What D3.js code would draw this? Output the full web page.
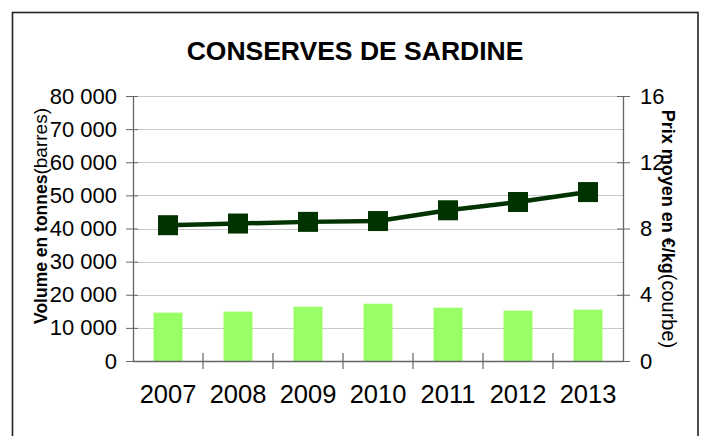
<!DOCTYPE html>
<html>
<head>
<meta charset="utf-8">
<script src="https://cdn.jsdelivr.net/npm/d3@7"></script>
<style>
  html, body { margin: 0; padding: 0; background: #fff; }
  svg { display: block; font-family: "Liberation Sans", Arial, sans-serif; }
</style>
</head>
<body>
<svg id="chart" width="704" height="436"></svg>
<script>
// Conserves de sardine : volumes (barres) et prix moyen (courbe)
const years = ["2007", "2008", "2009", "2010", "2011", "2012", "2013"];
const volumes = [14600, 14900, 16400, 17300, 16100, 15200, 15500];
const prices = [8.2, 8.3, 8.4, 8.45, 9.1, 9.6, 10.2];
const volumeTicks = [0, 10000, 20000, 30000, 40000, 50000, 60000, 70000, 80000];
const priceTicks = [0, 4, 8, 12, 16];

const svg = d3.select("#chart");
const plot = { left: 133, right: 623, top: 96, bottom: 361 };

const locale = d3.formatLocale({ decimal: ",", thousands: " ", grouping: [3], currency: ["", " €"] });
const fmt = locale.format(",d");

const x = d3.scaleBand().domain(years).range([plot.left, plot.right]).paddingInner(0).paddingOuter(0);
const yVol = d3.scaleLinear().domain([0, 80000]).range([plot.bottom, plot.top]);
const yPrice = d3.scaleLinear().domain([0, 16]).range([plot.bottom, plot.top]);

// cadre
svg.append("rect")
  .attr("x", 12.5).attr("y", 12.5)
  .attr("width", 685.5).attr("height", 440)
  .attr("fill", "none").attr("stroke", "#222").attr("stroke-width", 1.6);

// titre
svg.append("text")
  .attr("x", 355).attr("y", 59.5)
  .attr("text-anchor", "middle")
  .attr("font-size", 26.5).attr("font-weight", "bold")
  .text("CONSERVES DE SARDINE");

// quadrillage horizontal
svg.append("g")
  .selectAll("line")
  .data(volumeTicks.slice(1))
  .join("line")
  .attr("x1", plot.left).attr("x2", plot.right)
  .attr("y1", d => Math.round(yVol(d)) + 0.5).attr("y2", d => Math.round(yVol(d)) + 0.5)
  .attr("stroke", "#c8c8c8").attr("stroke-width", 1);

// barres
const barW = 29;
svg.append("g")
  .selectAll("rect")
  .data(volumes)
  .join("rect")
  .attr("x", (d, i) => x(years[i]) + x.bandwidth() / 2 - barW / 2)
  .attr("y", d => yVol(d))
  .attr("width", barW)
  .attr("height", d => plot.bottom - yVol(d))
  .attr("fill", "#99ff66");

// axe gauche
const axisColor = "#666";
const gLeft = svg.append("g")
  .attr("transform", `translate(${plot.left},0)`)
  .call(d3.axisLeft(yVol).tickValues(volumeTicks).tickFormat(fmt).tickSizeInner(7).tickSizeOuter(0).tickPadding(9));
gLeft.select(".domain").attr("stroke", axisColor).attr("stroke-width", 1.3);
gLeft.selectAll(".tick line").attr("stroke", axisColor).attr("x2", -7).attr("x1", 5);
gLeft.selectAll(".tick text").attr("font-size", 22).attr("fill", "#000")
  .attr("font-family", "Liberation Sans, Arial, sans-serif");

// axe droit
const gRight = svg.append("g")
  .attr("transform", `translate(${plot.right},0)`)
  .call(d3.axisRight(yPrice).tickValues(priceTicks).tickSizeInner(6).tickSizeOuter(0).tickPadding(11));
gRight.select(".domain").attr("stroke", axisColor).attr("stroke-width", 1.3);
gRight.selectAll(".tick line").attr("stroke", axisColor).attr("x1", -6).attr("x2", 7);
gRight.selectAll(".tick text").attr("font-size", 22).attr("fill", "#000")
  .attr("font-family", "Liberation Sans, Arial, sans-serif");

// axe des abscisses
const gBottom = svg.append("g")
  .attr("transform", `translate(0,${plot.bottom})`)
  .call(d3.axisBottom(x).tickSize(0).tickPadding(23.5));
gBottom.select(".domain").attr("stroke", axisColor).attr("stroke-width", 1.3);
gBottom.selectAll(".tick text").attr("font-size", 25.5).attr("fill", "#000")
  .attr("font-family", "Liberation Sans, Arial, sans-serif");
// graduations entre catégories
svg.append("g")
  .selectAll("line")
  .data(years.slice(1))
  .join("line")
  .attr("x1", d => x(d)).attr("x2", d => x(d))
  .attr("y1", plot.bottom - 8).attr("y2", plot.bottom + 8)
  .attr("stroke", axisColor).attr("stroke-width", 1.2);

// courbe des prix
const line = d3.line()
  .x((d, i) => x(years[i]) + x.bandwidth() / 2)
  .y(d => yPrice(d));
svg.append("path")
  .datum(prices)
  .attr("d", line)
  .attr("fill", "none")
  .attr("stroke", "#003300")
  .attr("stroke-width", 4.5);

const mk = 20;
svg.append("g")
  .selectAll("rect")
  .data(prices)
  .join("rect")
  .attr("x", (d, i) => x(years[i]) + x.bandwidth() / 2 - mk / 2)
  .attr("y", d => yPrice(d) - mk / 2)
  .attr("width", mk).attr("height", mk)
  .attr("fill", "#003300");

// titres des axes
const leftTitle = svg.append("text")
  .attr("transform", "translate(47,216) rotate(-90)")
  .attr("text-anchor", "middle");
leftTitle.append("tspan").attr("font-size", 17.5).attr("font-weight", "bold").text("Volume en tonnes");
leftTitle.append("tspan").attr("font-size", 19).text("(barres)");

const rightTitle = svg.append("text")
  .attr("transform", "translate(662,229) rotate(90)")
  .attr("text-anchor", "middle");
rightTitle.append("tspan").attr("font-size", 18).attr("font-weight", "bold").text("Prix moyen en  €/kg");
rightTitle.append("tspan").attr("font-size", 20).text("(courbe)");
</script>
</body>
</html>
